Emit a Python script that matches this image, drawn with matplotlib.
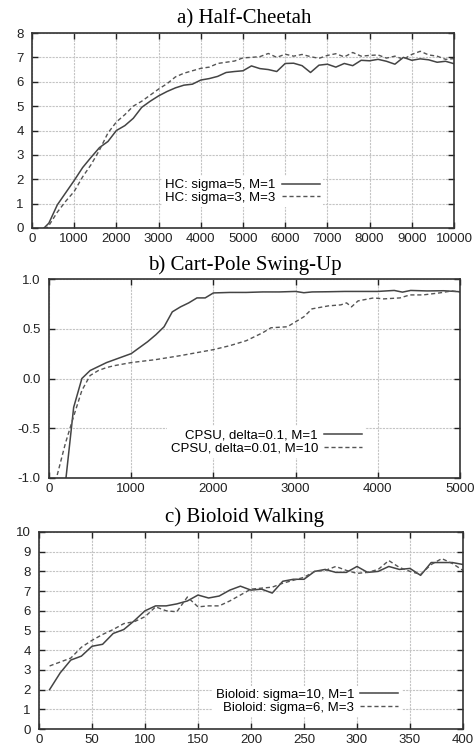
import matplotlib
matplotlib.use("Agg")
import matplotlib.pyplot as plt

plt.rcParams['font.family'] = ['Liberation Sans', 'DejaVu Sans']
plt.rcParams['axes.unicode_minus'] = False

# a) Half-Cheetah
hc_x = list(range(200, 10001, 200))
hc_s5_m1 = [-0.15, 0.2, 0.95, 1.45, 1.95, 2.48, 2.9, 3.3, 3.55, 4.0,
            4.2, 4.5, 4.95, 5.2, 5.42, 5.6, 5.75, 5.86, 5.9, 6.07,
            6.13, 6.22, 6.38, 6.42, 6.45, 6.65, 6.54, 6.5, 6.42, 6.75,
            6.76, 6.66, 6.38, 6.68, 6.72, 6.6, 6.75, 6.66, 6.88, 6.86,
            6.92, 6.84, 6.72, 7.0, 6.88, 6.94, 6.9, 6.8, 6.84, 6.74]
hc_s3_m3 = [-0.3, 0.1, 0.65, 1.1, 1.5, 2.1, 2.6, 3.2, 3.9, 4.35,
            4.65, 5.0, 5.2, 5.45, 5.7, 5.92, 6.2, 6.35, 6.45, 6.55,
            6.6, 6.75, 6.8, 6.85, 6.98, 7.0, 7.03, 7.16, 7.0, 7.13,
            7.05, 7.12, 7.03, 6.96, 7.08, 7.15, 7.02, 7.2, 7.05, 7.08,
            7.1, 6.97, 7.05, 6.92, 7.12, 7.25, 7.1, 7.05, 6.92, 6.95]

# b) Cart-Pole Swing-Up
cp_x1 = [200, 300, 400, 500, 600, 700, 800, 900, 1000, 1100,
         1200, 1300, 1400, 1500, 1600, 1700, 1800, 1900, 2000, 2200,
         2400, 2600, 2800, 3000, 3100, 3200, 3400, 3600, 3800, 4000,
         4200, 4300, 4400, 4600, 4800, 5000]
cp_d01_m1 = [-1.05, -0.29, 0.0, 0.08, 0.12, 0.16, 0.19, 0.22, 0.25, 0.31,
             0.37, 0.44, 0.52, 0.67, 0.72, 0.76, 0.81, 0.81, 0.86, 0.865,
             0.865, 0.87, 0.87, 0.875, 0.862, 0.87, 0.872, 0.875, 0.875, 0.875,
             0.885, 0.868, 0.885, 0.88, 0.882, 0.872]
cp_x2 = [100, 200, 300, 400, 500, 600, 700, 800, 1000, 1300,
         1600, 2000, 2200, 2400, 2600, 2700, 2900, 3000, 3100, 3200,
         3400, 3550, 3620, 3680, 3760, 3950, 4070, 4270, 4390, 4550,
         4750, 4900, 5000]
cp_d001_m10 = [-0.97, -0.65, -0.38, -0.12, 0.03, 0.08, 0.11, 0.13, 0.16, 0.19,
               0.23, 0.29, 0.33, 0.38, 0.46, 0.51, 0.52, 0.57, 0.62, 0.70,
               0.73, 0.74, 0.76, 0.72, 0.78, 0.81, 0.80, 0.81, 0.84, 0.84,
               0.86, 0.88, 0.87]

# c) Bioloid Walking
bw_x = list(range(10, 401, 10))
bw_s10_m1 = [2.0, 2.85, 3.5, 3.7, 4.2, 4.3, 4.85, 5.05, 5.5, 6.0,
             6.25, 6.25, 6.35, 6.5, 6.8, 6.65, 6.75, 7.05, 7.25, 7.05,
             7.1, 6.9, 7.5, 7.6, 7.6, 8.0, 8.1, 7.95, 7.95, 8.25,
             7.95, 8.0, 8.25, 8.1, 8.15, 7.8, 8.45, 8.45, 8.45, 8.35]
bw_s6_m3 = [3.2, 3.4, 3.6, 4.15, 4.5, 4.8, 5.05, 5.35, 5.45, 5.7,
            6.2, 6.0, 5.95, 6.7, 6.2, 6.25, 6.25, 6.5, 6.8, 7.1,
            7.15, 7.2, 7.4, 7.55, 7.7, 8.0, 8.05, 8.25, 8.05, 7.9,
            7.95, 8.1, 8.55, 8.2, 8.0, 7.85, 8.35, 8.65, 8.4, 8.05]

fig = plt.figure(figsize=(4.76, 7.51), dpi=100)

def style(ax, xlim, ylim, xt, yt, yfmt):
    ax.set_xlim(*xlim)
    ax.set_ylim(*ylim)
    ax.set_xticks(xt)
    ax.set_yticks(yt)
    ax.set_yticklabels([yfmt % v for v in yt])
    ax.grid(True, color='#c4c4c4', lw=0.8, ls=(0, (2, 1)))
    ax.set_axisbelow(True)
    ax.tick_params(direction='in', top=True, right=True, length=4.5, width=1.0,
                   labelsize=9.5, colors='#222222')
    ax.tick_params(axis='x', pad=3.5)
    ax.tick_params(axis='y', pad=6)
    for sp in ax.spines.values():
        sp.set_linewidth(1.2)
        sp.set_color('#333333')

def legend(ax, anchor):
    leg = ax.legend(loc='center right', bbox_to_anchor=anchor, markerfirst=False,
                    fontsize=9.5, handlelength=2.9, handletextpad=0.45,
                    labelspacing=0.05, borderpad=0.25, borderaxespad=0,
                    frameon=True, fancybox=False, framealpha=1)
    leg.get_frame().set_facecolor('white')
    leg.get_frame().set_edgecolor('none')

solid = dict(color='#444444', lw=1.1)
dashed = dict(color='#555555', lw=1.0, ls=(0, (3, 2)))

# panel a
ax1 = fig.add_axes([32/476, 1-228/751, 422/476, 195/751])
ax1.plot(hc_x, hc_s5_m1, label='HC: sigma=5, M=1', **solid)
ax1.plot(hc_x, hc_s3_m3, label='HC: sigma=3, M=3', **dashed)
style(ax1, (0, 10000), (0, 8), range(0, 10001, 1000), list(range(0, 9)), '%d')
legend(ax1, (0.69, 0.187))
fig.text(244.5/476, 1-23/751, 'a) Half-Cheetah', ha='center', va='baseline',
         family='Liberation Serif', fontsize=15)

# panel b
ax2 = fig.add_axes([49/476, 1-478/751, 411/476, 199/751])
ax2.plot(cp_x1, cp_d01_m1, label='CPSU, delta=0.1, M=1', **solid)
ax2.plot(cp_x2, cp_d001_m10, label='CPSU, delta=0.01, M=10', **dashed)
style(ax2, (0, 5000), (-1, 1), range(0, 5001, 1000), [-1.0, -0.5, 0.0, 0.5, 1.0], '%.1f')
legend(ax2, (0.77, 0.18))
fig.text(244.5/476, 1-270/751, 'b) Cart-Pole Swing-Up', ha='center', va='baseline',
         family='Liberation Serif', fontsize=15)

# panel c
ax3 = fig.add_axes([39/476, 1-729/751, 424/476, 197/751])
ax3.plot(bw_x, bw_s10_m1, label='Bioloid: sigma=10, M=1', **solid)
ax3.plot(bw_x, bw_s6_m3, label='Bioloid: sigma=6, M=3', **dashed)
style(ax3, (0, 400), (0, 10), range(0, 401, 50), list(range(0, 11)), '%d')
legend(ax3, (0.855, 0.14))
fig.text(244.5/476, 1-522/751, 'c) Bioloid Walking', ha='center', va='baseline',
         family='Liberation Serif', fontsize=15)

fig.savefig('out.png', dpi=100)
